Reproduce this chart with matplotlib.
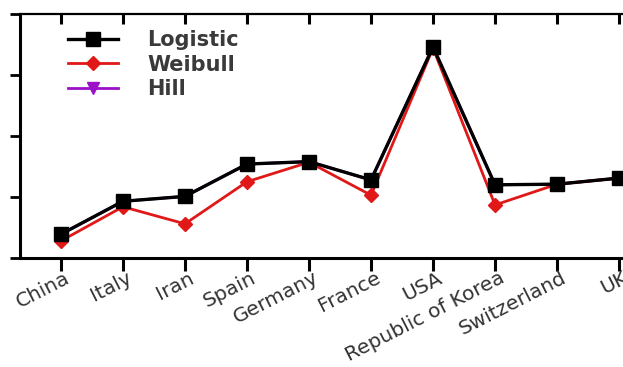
import numpy as np
import matplotlib
matplotlib.use("Agg")
import matplotlib.pyplot as plt
from matplotlib.lines import TICKDOWN
from matplotlib.transforms import ScaledTranslation

countries = ["China", "Italy", "Iran", "Spain", "Germany", "France", "USA",
             "Republic of Korea", "Switzerland", "UK"]
logistic = [0.39, 0.93, 1.01, 1.54, 1.58, 1.28, 3.46, 1.20, 1.21, 1.31]
weibull = [0.28, 0.84, 0.56, 1.25, 1.57, 1.03, 3.44, 0.87, 1.21, 1.31]
hill = [0.39, 0.93, 1.01, 1.54, 1.58, 1.28, 3.46, 1.20, 1.21, 1.31]

W, H = 623, 367
fig = plt.figure(figsize=(W / 100, H / 100), dpi=100)
ax = fig.add_axes([20 / W, (H - 258) / H, 640 / W, 244 / H])

x = np.arange(len(countries))
ax.plot(x, hill, color="#9b10c8", lw=2, marker="v", ms=9, label="Hill", zorder=2)
ax.plot(x, weibull, color="#e01818", lw=2, marker="D", ms=7.5, label="Weibull", zorder=3)
ax.plot(x, logistic, color="black", lw=2.4, marker="s", ms=10.5, label="Logistic", zorder=4)

ax.set_xlim(-0.66, 9.66)
ax.set_ylim(0, 4)
ax.set_xticks(x)
ax.set_xticklabels(countries, rotation=27, ha="right", va="center",
                   rotation_mode="anchor", fontsize=14.5, color="#333333")
ax.set_yticks([0, 1, 2, 3, 4])
ax.set_yticklabels([])

for s in ["left", "bottom"]:
    ax.spines[s].set_linewidth(2.2)
ax.spines["top"].set_linewidth(1.6)
ax.spines["right"].set_visible(False)

ax.tick_params(axis="x", direction="out", length=9.5, width=2.2, pad=4, top=True)
ax.tick_params(axis="y", direction="out", length=7, width=2)
# top ticks point inward
for t in ax.xaxis.get_major_ticks():
    t.tick2line.set_marker(TICKDOWN)
    t.tick2line.set_markersize(7)
    t.tick2line.set_markeredgewidth(2.2)

# nudge labels right so they end just past the tick
shift = ScaledTranslation(8 / 100, 0, fig.dpi_scale_trans)
for lab in ax.get_xticklabels():
    lab.set_transform(lab.get_transform() + shift)

handles, labels = ax.get_legend_handles_labels()
order = [2, 1, 0]
leg = ax.legend([handles[i] for i in order], [labels[i] for i in order],
                loc="upper left", bbox_to_anchor=(68 / W, 1 - 30 / H),
                bbox_transform=fig.transFigure, frameon=False,
                borderpad=0, borderaxespad=0, labelspacing=0.22,
                handlelength=2.4, handletextpad=1.4,
                prop={"size": 15, "weight": "bold"})
for t in leg.get_texts():
    t.set_color("#3a3a3a")

fig.savefig("out.png", dpi=100)
